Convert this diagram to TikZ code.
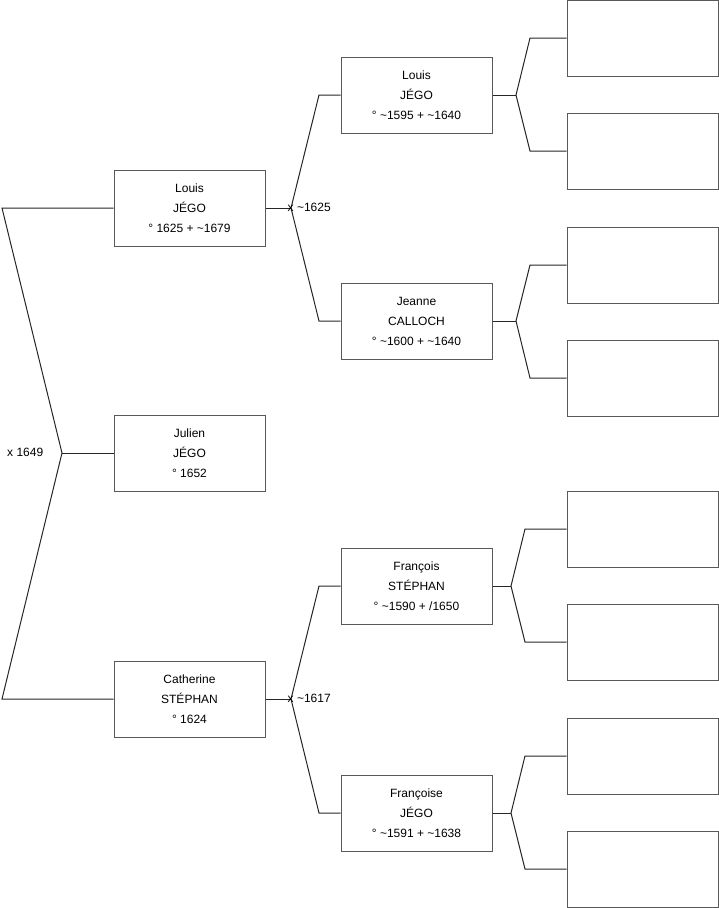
\documentclass[tikz,border=0pt]{standalone}
\usepackage{fontspec}
\setmainfont{Liberation Sans}
\begin{document}
\begin{tikzpicture}[x=1pt,y=-1pt,
  person/.style={draw=black!65,line width=1pt,minimum width=151pt,minimum height=76pt,inner sep=0pt,align=center,font=\fontsize{12}{20}\selectfont},
  link/.style={draw=black!85,line width=1pt},
  lbl/.style={inner sep=0pt,font=\fontsize{12}{14}\selectfont,anchor=west}]
\useasboundingbox (0,0) rectangle (719,908);
% generation 1
\node[person] (louis1) at (189.5,208) {Louis\\JÉGO\\° 1625 + \textasciitilde1679};
\node[person] (julien) at (189.5,453) {Julien\\JÉGO\\° 1652};
\node[person] (cath) at (189.5,699) {Catherine\\STÉPHAN\\° 1624};
% generation 2
\node[person] (louis2) at (416.5,95) {Louis\\JÉGO\\° \textasciitilde1595 + \textasciitilde1640};
\node[person] (jeanne) at (416.5,321) {Jeanne\\CALLOCH\\° \textasciitilde1600 + \textasciitilde1640};
\node[person] (franc) at (416.5,586) {François\\STÉPHAN\\° \textasciitilde1590 + /1650};
\node[person] (francoise) at (416.5,813) {Françoise\\JÉGO\\° \textasciitilde1591 + \textasciitilde1638};
% generation 3
\foreach \n/\y in {a/38,b/151,c/265,d/378,e/529,f/642,g/756,h/869}
  \node[person] (g3\n) at (642.5,\y) {};
% left fork
\coordinate (top1) at (2,208);
\coordinate (bot1) at (2,699);
\coordinate (j1) at (62,453);
\draw[link] (louis1.west) -- (top1) -- (j1) -- (bot1) -- (cath.west);
\draw[link] (j1) -- (julien.west);
\node[lbl] (m1) at (7,452) {x 1649};
% second level forks
\coordinate (j2) at (291,208);
\coordinate (j2a) at (319,95);
\coordinate (j2b) at (319,321);
\draw[link] (louis1.east) -- (j2);
\draw[link] (louis2.west) -- (j2a) -- (j2) -- (j2b) -- (jeanne.west);
\node[lbl] (m2) at (287.5,207) {x \textasciitilde1625};
\coordinate (j3) at (291,699);
\coordinate (j3a) at (319,586);
\coordinate (j3b) at (319,813);
\draw[link] (cath.east) -- (j3);
\draw[link] (franc.west) -- (j3a) -- (j3) -- (j3b) -- (francoise.west);
\node[lbl] (m3) at (287.5,698) {x \textasciitilde1617};
% third level forks
\coordinate (k1) at (516,95);
\draw[link] (louis2.east) -- (k1);
\draw[link] (g3a.west) -- (530,38) -- (k1) -- (530,151) -- (g3b.west);
\coordinate (k2) at (516,321);
\draw[link] (jeanne.east) -- (k2);
\draw[link] (g3c.west) -- (530,265) -- (k2) -- (530,378) -- (g3d.west);
\coordinate (k3) at (511,586);
\draw[link] (franc.east) -- (k3);
\draw[link] (g3e.west) -- (525,529) -- (k3) -- (525,642) -- (g3f.west);
\coordinate (k4) at (511,813);
\draw[link] (francoise.east) -- (k4);
\draw[link] (g3g.west) -- (525,756) -- (k4) -- (525,869) -- (g3h.west);
\end{tikzpicture}
\end{document}
